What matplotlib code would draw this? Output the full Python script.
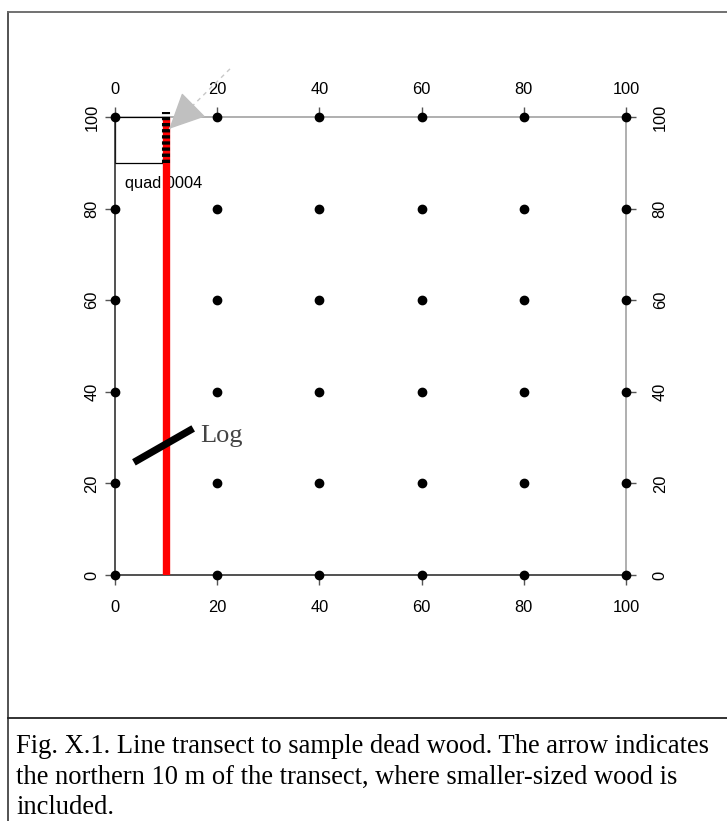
# Line transect sketch for the dead wood protocol

import numpy as np
import matplotlib.pyplot as plt
from matplotlib.patches import Rectangle
from matplotlib.lines import Line2D

plt.rcParams['lines.scale_dashes'] = False

# grid of plot markers (m)
grid_x = [0, 20, 40, 60, 80, 100]
grid_y = [0, 20, 40, 60, 80, 100]
tick_vals = [0, 20, 40, 60, 80, 100]

# transect along x = 10, northern 10 m marked
transect_x = [10, 10]
transect_y = [0, 100]
north_x = [10, 10]
north_y = [90, 101]

# quadrat in the NW corner
quad_origin = (0, 90)
quad_size = 10
quad_label = "quad 0004"

# log crossing the transect
log_x = [3.7, 15.3]
log_y = [24.6, 32.0]

# arrow pointing to the northern part
arrow_tail = (22.5, 110.5)
arrow_head = (10.6, 97.4)

caption = ("Fig. X.1. Line transect to sample dead wood. The arrow indicates\n"
           "the northern 10 m of the transect, where smaller-sized wood is\n"
           "included.")

W, H = 727, 821
fig = plt.figure(figsize=(W / 100, H / 100), dpi=100)
pos = [115 / W, (H - 575) / H, 511 / W, 458 / H]

sans = 'Liberation Sans'
serif = 'Liberation Serif'

# top / right axes (gray), drawn underneath
ax2 = fig.add_axes(pos, zorder=0)
ax2.set_xlim(0, 100)
ax2.set_ylim(0, 100)
for s in ['left', 'bottom']:
    ax2.spines[s].set_visible(False)
for s in ['top', 'right']:
    ax2.spines[s].set_color('#9a9a9a')
    ax2.spines[s].set_linewidth(1.1)
ax2.xaxis.tick_top()
ax2.yaxis.tick_right()
ax2.set_xticks(tick_vals)
ax2.set_yticks(tick_vals)
ax2.tick_params(axis='x', direction='out', length=7.2, width=1, color='#555', pad=7.5, labelsize=11.8)
ax2.tick_params(axis='y', direction='out', length=7.2, width=1, color='#555', pad=12, labelsize=11.8)
for lab in ax2.get_yticklabels():
    lab.set_rotation(90)
    lab.set_va('center')
for lab in ax2.get_xticklabels() + ax2.get_yticklabels():
    lab.set_fontfamily(sans)

# main axes
ax = fig.add_axes(pos, zorder=1)
ax.patch.set_visible(False)
ax.set_xlim(0, 100)
ax.set_ylim(0, 100)
for s in ['top', 'right']:
    ax.spines[s].set_visible(False)
for s in ['left', 'bottom']:
    ax.spines[s].set_color('#222')
    ax.spines[s].set_linewidth(1.1)
ax.set_xticks(tick_vals)
ax.set_yticks(tick_vals)
ax.tick_params(axis='x', direction='out', length=7.2, width=1, color='#555', pad=10.5, labelsize=11.8)
ax.tick_params(axis='y', direction='out', length=7.2, width=1, color='#555', pad=4, labelsize=11.8)
for lab in ax.get_yticklabels():
    lab.set_rotation(90)
    lab.set_va('center')
for lab in ax.get_xticklabels() + ax.get_yticklabels():
    lab.set_fontfamily(sans)

# quadrat
ax.add_patch(Rectangle(quad_origin, quad_size, quad_size, fill=False,
                       edgecolor='black', lw=0.9, zorder=1))
ax.text(quad_origin[0] + 2, quad_origin[1] - 4.6, quad_label, fontsize=11.8,
        family=sans, ha='left', va='center', zorder=2)

# transect and northern 10 m
ax.plot(transect_x, transect_y, color='red', lw=5.3, solid_capstyle='butt', zorder=4)
ax.plot(north_x, north_y, color='black', lw=5.8, dash_capstyle='butt',
        dashes=(2.4, 2.0), zorder=5, clip_on=False)

# log
ax.plot(log_x, log_y, color='black', lw=5.2, solid_capstyle='butt', zorder=5)
ax.text(16.6, 29.0, "Log", fontsize=19, family=serif, color='#444',
        ha='left', va='baseline')

# grid markers
gx, gy = np.meshgrid(grid_x, grid_y)
ax.plot(gx.ravel(), gy.ravel(), 'o', color='black', ms=6, zorder=6, clip_on=False)

# arrow: dashed shaft plus a solid head
ax.plot([arrow_tail[0], arrow_head[0]], [arrow_tail[1], arrow_head[1]],
        color='#c8c8c8', lw=1, dashes=(3, 3), zorder=7, clip_on=False)
head_start = (arrow_head[0] + 0.35 * (arrow_tail[0] - arrow_head[0]),
              arrow_head[1] + 0.35 * (arrow_tail[1] - arrow_head[1]))
ax.annotate('', xy=arrow_head, xytext=head_start,
            arrowprops=dict(arrowstyle='-|>,head_length=1.15,head_width=0.55',
                            mutation_scale=20, color='#c0c0c0', lw=1,
                            shrinkA=0, shrinkB=0),
            annotation_clip=False, zorder=7)

# frame and caption
fig.add_artist(Line2D([8 / W, 8 / W], [0, 1 - 12 / H], color='#444', lw=1.3))
fig.add_artist(Line2D([8 / W, 1], [1 - 12 / H, 1 - 12 / H], color='#666', lw=1.3))
fig.add_artist(Line2D([8 / W, 1], [1 - 718 / H, 1 - 718 / H], color='#222', lw=1.3))
fig.text(16 / W, 1 - 734 / H, caption, family=serif, fontsize=19.1,
         ha='left', va='top', linespacing=1.3)

fig.savefig('out.png', dpi=100)
